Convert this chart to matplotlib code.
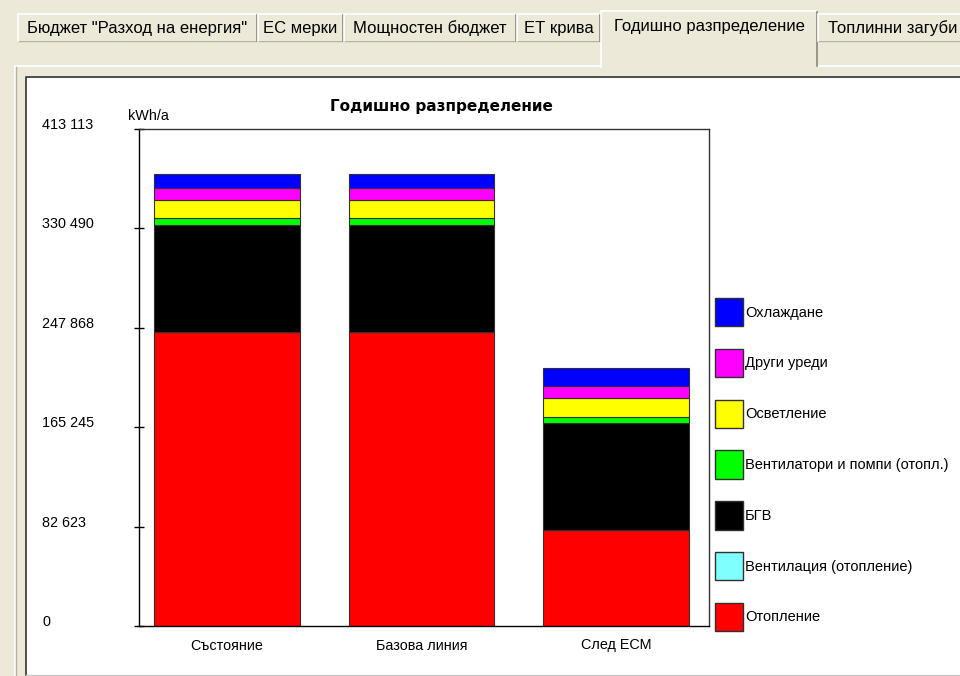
import matplotlib
matplotlib.use("Agg")
import matplotlib.pyplot as plt
from matplotlib.patches import Rectangle, Patch
from matplotlib.lines import Line2D

# --- data (kWh/a) ---
categories = ['Състояние', 'Базова линия', 'След ЕСМ']
heating = [244300, 244300, 79500]       # Отопление
ventilation = [0, 0, 0]                 # Вентилация (отопление)
dhw = [88700, 88700, 89200]             # БГВ
fans = [6300, 6300, 5300]               # Вентилатори и помпи (отопл.)
lighting = [14700, 14700, 15500]        # Осветление
appliances = [9700, 9700, 9700]         # Други уреди
cooling = [11900, 11900, 15500]         # Охлаждане

series_names = ['Отопление', 'Вентилация (отопление)', 'БГВ',
                'Вентилатори и помпи (отопл.)', 'Осветление', 'Други уреди', 'Охлаждане']
series_values = [heating, ventilation, dhw, fans, lighting, appliances, cooling]
series_colors = ['#ff0000', '#80ffff', '#000000', '#00ff00', '#ffff00', '#ff00ff', '#0000ff']

y_ticks = [0, 82623, 165245, 247868, 330490, 413113]
y_tick_labels = ['0', '82 623', '165 245', '247 868', '330 490', '413 113']

tabs = ['Бюджет "Разход на енергия"', 'ЕС мерки', 'Мощностен бюджет', 'ЕТ крива',
        'Годишно разпределение', 'Топлинни загуби']
selected_tab = 4

# --- figure in screen pixels ---
W, H = 960, 676
BEIGE = '#ece9d8'
UI_FONT = ['Liberation Sans', 'DejaVu Sans']

fig = plt.figure(figsize=(W / 100, H / 100), dpi=100, facecolor=BEIGE)


def fx(x):
    return x / W


def fy(y):
    return 1 - y / H


def rect(x0, y0, x1, y1, **kw):
    r = Rectangle((fx(x0), fy(y1)), (x1 - x0) / W, (y1 - y0) / H,
                  transform=fig.transFigure, **kw)
    fig.add_artist(r)
    return r


def line(xs, ys, **kw):
    fig.add_artist(Line2D([fx(x) for x in xs], [fy(y) for y in ys],
                          transform=fig.transFigure, **kw))


# tab strip
tab_edges = [(18, 257), (258, 343), (344, 516), (517, 600), (601, 817), (818, 968)]
for i, (name, (x0, x1)) in enumerate(zip(tabs, tab_edges)):
    top = 11 if i == selected_tab else 14
    bot = 67 if i == selected_tab else 41
    rect(x0, top, x1, bot, facecolor=BEIGE, edgecolor='none', zorder=3)
    line([x0, x0, x1 - 1], [bot, top, top], color='white', lw=1.2, zorder=4)
    line([x1, x1], [top + 1, bot if i != selected_tab else 66], color='#8a8779', lw=1.2, zorder=4)
    if i != selected_tab:
        line([x0, x1], [bot, bot], color='#b5b2a4', lw=1.0, zorder=2)
    ty = 26 if i == selected_tab else 28
    fig.text(fx((x0 + x1) / 2), fy(ty), name, ha='center', va='center',
             fontsize=12, family=UI_FONT, color='black', zorder=5)

# tab page frame
line([15, 15, W], [H, 66, 66], color='white', lw=1.2, zorder=2)
line([16, 16], [67, H], color='#b5b2a4', lw=1.0, zorder=2)
rect(26, 77, W + 5, 675, facecolor='white', edgecolor='none', zorder=-2)
line([26, 26, W], [675, 77, 77], color='#404040', lw=1.3, zorder=2)
line([26, W], [675, 675], color='#c8c8c8', lw=1.0, zorder=2)

# --- chart ---
ax_l, ax_r, ax_t, ax_b = 139, 709, 129, 626
ax = fig.add_axes([fx(ax_l), fy(ax_b), (ax_r - ax_l) / W, (ax_b - ax_t) / H])
ax.set_facecolor('white')

x = list(range(len(categories)))
bottom = [0] * len(categories)
for name, vals, col in zip(series_names, series_values, series_colors):
    ax.bar(x, vals, width=0.75, bottom=bottom, color=col,
           edgecolor='#303030', linewidth=0.8, label=name)
    bottom = [b + v for b, v in zip(bottom, vals)]

ax.set_xlim(-0.452, 2.478)
ax.set_ylim(0, 413113)
ax.set_xticks(x)
ax.set_xticklabels(categories, fontsize=10.4, family=UI_FONT)
ax.set_yticks(y_ticks)
ax.set_yticklabels(y_tick_labels, fontsize=10.4, family=UI_FONT, ha='left', va='baseline')
ax.tick_params(axis='x', length=0, pad=9)
ax.tick_params(axis='y', direction='inout', length=7, width=1, color='black', pad=66.3)

for side in ['left', 'bottom']:
    ax.spines[side].set_color('black')
    ax.spines[side].set_linewidth(1.0)
for side in ['top', 'right']:
    ax.spines[side].set_color('#333333')
    ax.spines[side].set_linewidth(1.0)

fig.text(fx(441), fy(107), 'Годишно разпределение', ha='center', va='center',
         fontsize=11, fontweight='bold', family=['DejaVu Sans'])
fig.text(fx(128), fy(116), 'kWh/a', ha='left', va='center', fontsize=10.4, family=UI_FONT)

# legend (top entry = last stacked series)
handles = [Patch(facecolor=c, edgecolor='#303030', linewidth=1.0) for c in series_colors][::-1]
fig.legend(handles, series_names[::-1], loc='upper left',
           bbox_to_anchor=(fx(715), fy(298)), frameon=False,
           prop={'family': UI_FONT, 'size': 10.5},
           handlelength=1.9, handleheight=2.6, handletextpad=0.15,
           labelspacing=1.55, borderpad=0, borderaxespad=0)

fig.savefig('out.png', dpi=100, facecolor=BEIGE)
